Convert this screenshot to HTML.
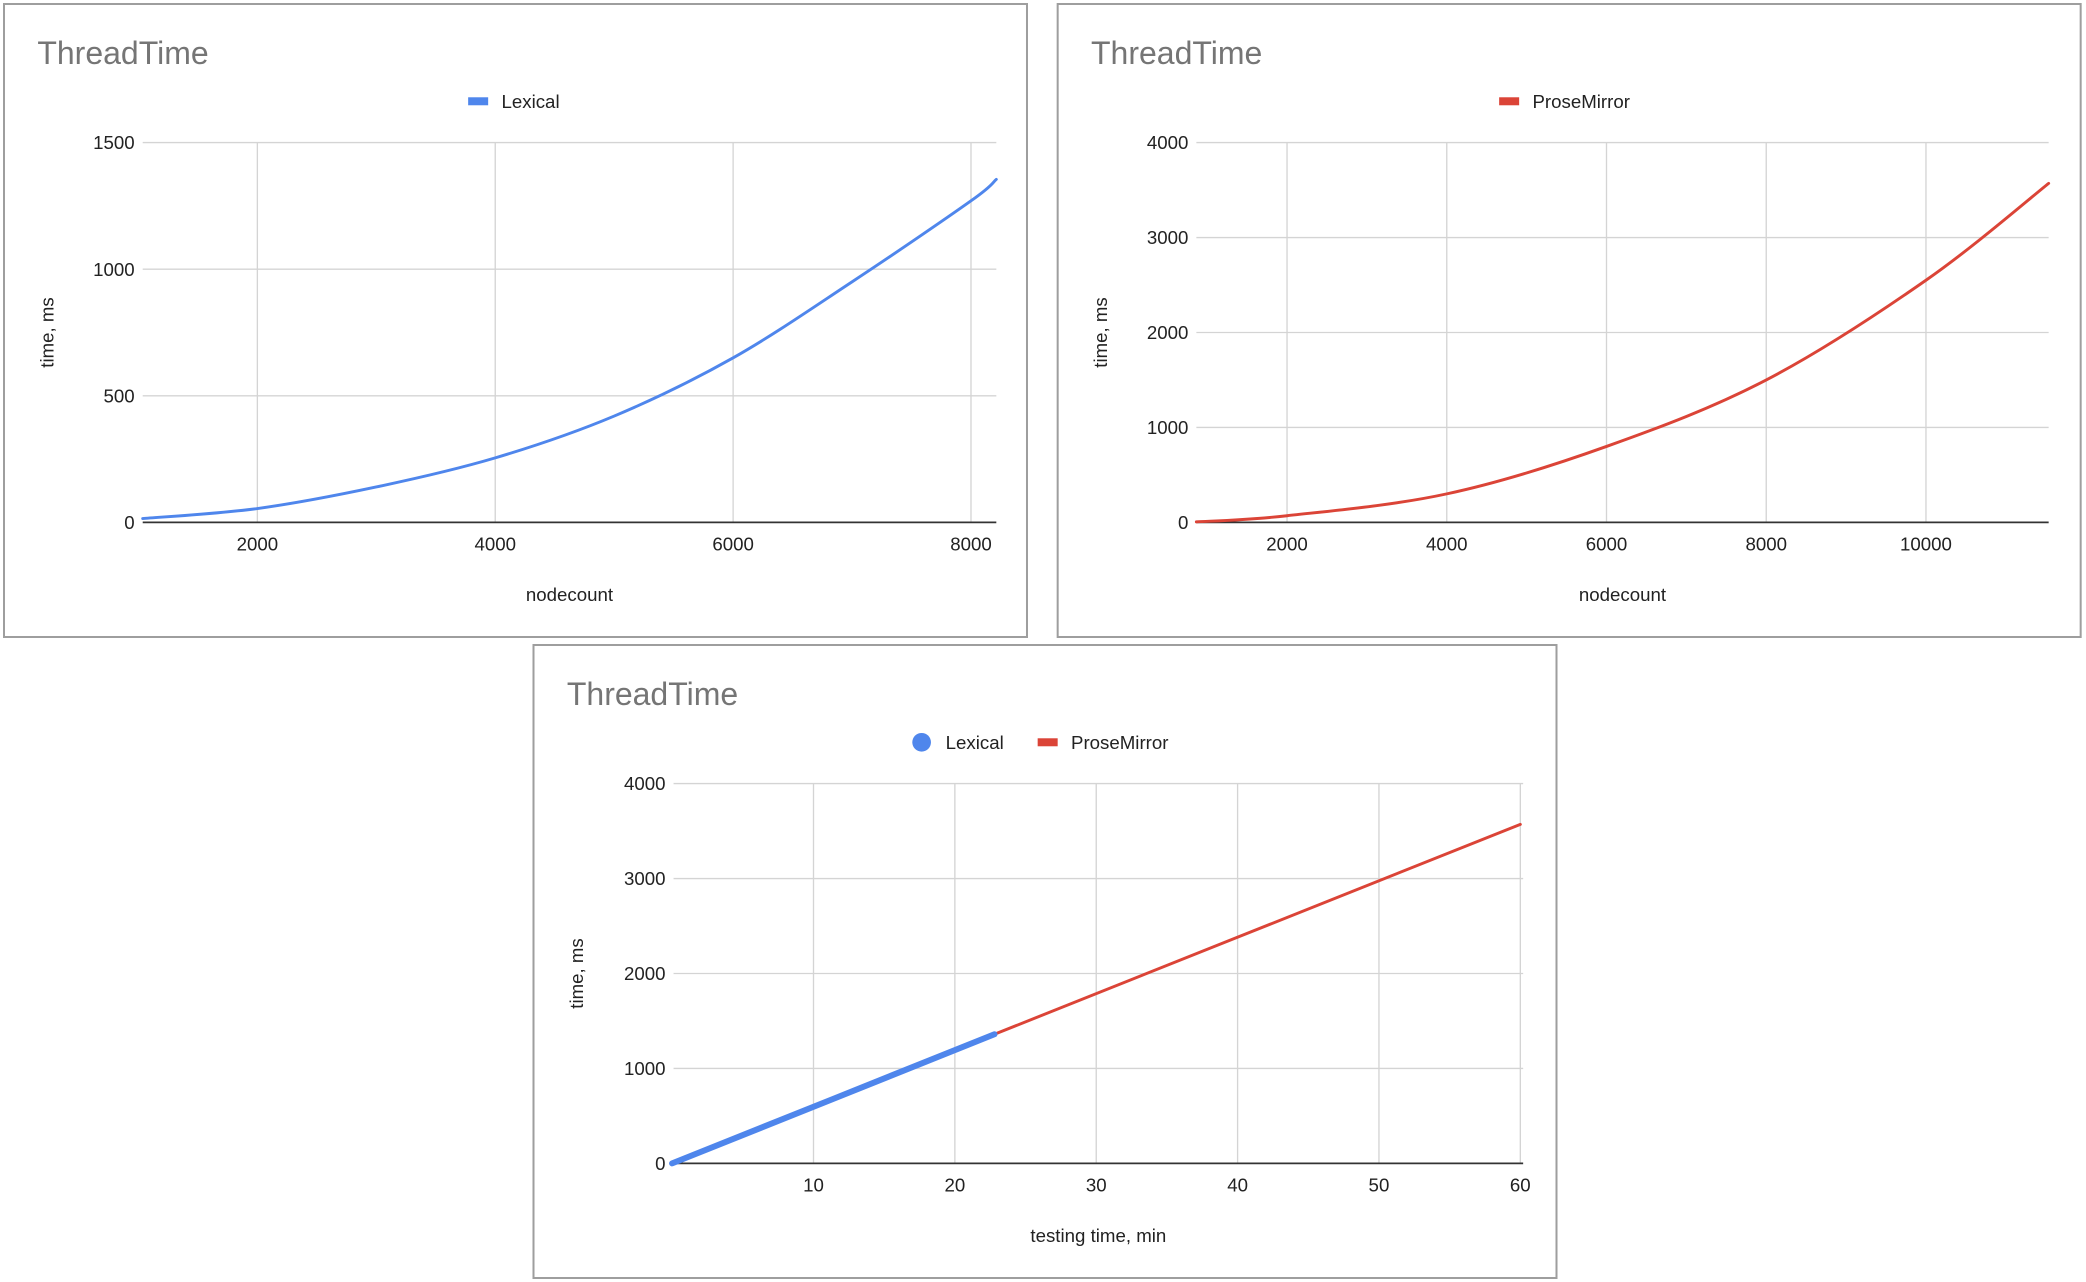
<!DOCTYPE html>
<html><head><meta charset="utf-8"><style>
html,body{margin:0;padding:0;background:#fff;}
svg{display:block;font-family:"Liberation Sans",Arial,sans-serif;}
</style></head><body>
<svg id="s" width="2086" height="1282" viewBox="0 0 1564 962" preserveAspectRatio="none" xmlns="http://www.w3.org/2000/svg"></svg>
<script>
// Chart 1: Lexical
const lexX = [1036, 2000, 3000, 4000, 5000, 6000, 7000, 8000, 8213];
const lexY = [15, 55, 140, 255, 420, 650, 950, 1270, 1355];
const lexXTicks = [2000, 4000, 6000, 8000];
const lexYTicks = [0, 500, 1000, 1500];
// Chart 2: ProseMirror
const pmX = [865, 2000, 4000, 6000, 8000, 10000, 11536];
const pmY = [5, 70, 300, 800, 1500, 2550, 3570];
const pmXTicks = [2000, 4000, 6000, 8000, 10000];
const pmYTicks = [0, 1000, 2000, 3000, 4000];
// Chart 3: testing time
const cmpLexT = [0, 22.8];
const cmpLexV = [0, 1360];
const cmpPmT = [0, 22.8, 60];
const cmpPmV = [0, 1360, 3570];
const cmpXTicks = [10, 20, 30, 40, 50, 60];
const cmpYTicks = [0, 1000, 2000, 3000, 4000];

const NS = "http://www.w3.org/2000/svg";
const svg = document.getElementById('s');
function mk(tag, attrs, parent, text){
  const e = document.createElementNS(NS, tag);
  for (const k in attrs) e.setAttribute(k, attrs[k]);
  if (text !== undefined) e.textContent = text;
  (parent || svg).appendChild(e);
  return e;
}
function smooth(p){
  let d = 'M' + p[0][0].toFixed(1) + ',' + p[0][1].toFixed(1);
  for (let i = 0; i < p.length - 1; i++) {
    const p0 = p[i-1] || p[i], p1 = p[i], p2 = p[i+1], p3 = p[i+2] || p2;
    const c1 = [p1[0] + (p2[0]-p0[0])/6, p1[1] + (p2[1]-p0[1])/6];
    const c2 = [p2[0] - (p3[0]-p1[0])/6, p2[1] - (p3[1]-p1[1])/6];
    d += ' C' + c1.map(v=>v.toFixed(1)).join(',') + ' ' + c2.map(v=>v.toFixed(1)).join(',') + ' ' + p2.map(v=>v.toFixed(1)).join(',');
  }
  return d;
}
function chart(o){
  const g = mk('g', {});
  
  
  const fr = mk('rect', {x:o.bx, y:o.by, width:767, height:475, fill:'#fff', stroke:'#9e9e9e', 'stroke-width':1.5}, g);
  
  
  const t = mk('text', {x:o.bx+25, y:o.by+45, 'font-size':24, fill:'#757575'}, g, 'ThreadTime');
  
  
  const sx = v => o.x0 + (v - o.xmin) / (o.xmax - o.xmin) * (o.x1 - o.x0);
  const sy = v => o.y1 - (v - o.ymin) / (o.ymax - o.ymin) * (o.y1 - o.y0);
  o.xTicks.forEach(v => {
    const l = mk('line', {x1:sx(v), x2:sx(v), y1:o.y0, y2:o.y1, stroke:'#d4d4d4', 'stroke-width':1}, g);
    
    
    const tx = mk('text', {x:sx(v), y:o.y1+21, 'font-size':14, 'text-anchor':'middle', fill:'#222'}, g, String(v));
    
    
  });
  o.yTicks.forEach(v => {
    const l = mk('line', {x1:o.x0, x2:o.x1, y1:sy(v), y2:sy(v), stroke: v===o.ymin?'#333':'#d4d4d4', 'stroke-width':v===o.ymin?1.3:1}, g);
    
    
    const ty = mk('text', {x:o.x0-6, y:sy(v)+5, 'font-size':14, 'text-anchor':'end', fill:'#222'}, g, String(v));
    
    
  });
  const xt = mk('text', {x:(o.x0+o.x1)/2, y:o.y1+59, 'font-size':14, 'text-anchor':'middle', fill:'#222'}, g, o.xTitle);
  
  
  const yx = o.bx+37, yy = (o.y0+o.y1)/2;
  const yt = mk('text', {x:yx, y:yy, 'font-size':14, 'text-anchor':'middle', fill:'#222', transform:`rotate(-90 ${yx} ${yy})`}, g, 'time, ms');
  
  
  o.series.forEach(s => {
    const pts = s.xs.map((x,i) => [sx(x), sy(s.ys[i])]);
    const p = mk('path', {d:smooth(pts), fill:'none', stroke:s.color, 'stroke-width':s.w, 'stroke-linejoin':'round', 'stroke-linecap':'round'}, g);
    
    
  });
  o.legend.forEach(L => {
    const lg = mk('g', {}, g);
    
    
    if (L.dot) mk('circle', {cx:L.x+7, cy:o.by+73, r:7, fill:L.color}, lg);
    else mk('rect', {x:L.x, y:o.by+70, width:15, height:6, fill:L.color}, lg);
    mk('text', {x:L.x+25, y:o.by+78, 'font-size':14, fill:'#222'}, lg, L.label);
  });
}
chart({name:'lexical-chart', bx:3, by:3, x0:107, x1:747, y0:107, y1:392, xmin:1036, xmax:8213, ymin:0, ymax:1500,
  xTicks:lexXTicks, yTicks:lexYTicks, xTitle:'nodecount',
  series:[{name:'lexical-line', xs:lexX, ys:lexY, color:'#4f86ec', w:2.2}],
  legend:[{x:351, color:'#4f86ec', label:'Lexical'}]});
chart({name:'prosemirror-chart', bx:793, by:3, x0:897, x1:1536, y0:107, y1:392, xmin:865, xmax:11536, ymin:0, ymax:4000,
  xTicks:pmXTicks, yTicks:pmYTicks, xTitle:'nodecount',
  series:[{name:'prosemirror-line', xs:pmX, ys:pmY, color:'#db4437', w:2.2}],
  legend:[{x:1124, color:'#db4437', label:'ProseMirror'}]});
chart({name:'comparison-chart', bx:400, by:484, x0:505, x1:1142, y0:588, y1:873, xmin:0.1, xmax:60.2, ymin:0, ymax:4000,
  xTicks:cmpXTicks, yTicks:cmpYTicks, xTitle:'testing time, min',
  series:[{name:'prosemirror-line', xs:cmpPmT, ys:cmpPmV, color:'#db4437', w:2.2},
          {name:'lexical-line', xs:cmpLexT, ys:cmpLexV, color:'#4f86ec', w:4.5}],
  legend:[{x:684, dot:true, color:'#4f86ec', label:'Lexical'},{x:778, color:'#db4437', label:'ProseMirror'}]});
</script>
</body></html>
